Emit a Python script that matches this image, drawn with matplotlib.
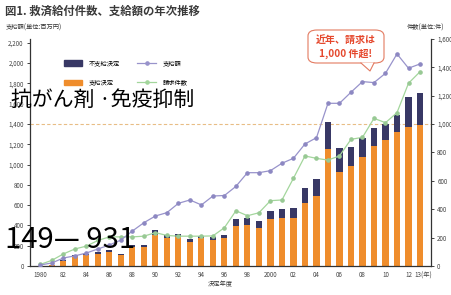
import matplotlib
matplotlib.use("Agg")
import matplotlib.pyplot as plt
from matplotlib.patches import FancyBboxPatch, Polygon, Patch
from matplotlib.lines import Line2D

plt.rcParams['font.family'] = ['Noto Sans CJK JP', 'DejaVu Sans']

# ---------------- data ----------------
years = list(range(1980, 2014))
decided = [0, 8, 38, 68, 75, 88, 100, 75, 135, 135,
           220, 200, 202, 172, 195, 183, 198, 282, 289, 268,
           329, 336, 336, 446, 495, 822, 664, 704, 765, 845,
           887, 946, 981, 990]
rejected = [0, 1, 4, 9, 10, 12, 13, 10, 13, 13,
            33, 18, 21, 18, 19, 23, 20, 47, 47, 49,
            58, 63, 70, 101, 118, 194, 165, 132, 134, 125,
            113, 117, 211, 226]
requests = [11, 40, 85, 120, 140, 180, 205, 205, 205, 210,
            235, 215, 210, 210, 210, 212, 270, 389, 354, 375,
            460, 465, 618, 775, 758, 746, 775, 892, 906, 1040,
            1009, 1080, 1287, 1368]
amounts = [10, 30, 79, 100, 128, 168, 207, 256, 345, 427,
           493, 526, 618, 651, 602, 690, 695, 785, 920, 920,
           940, 1013, 1062, 1203, 1265, 1604, 1604, 1713, 1818, 1808,
           1900, 2091, 1950, 1992]
xtick_years = [1980, 1982, 1984, 1986, 1988, 1990, 1992, 1994, 1996, 1998,
               2000, 2002, 2004, 2006, 2008, 2010, 2012]
xtick_labels = ["1980", "82", "84", "86", "88", "90", "92", "94", "96", "98",
                "2000", "02", "04", "06", "08", "10", "12"]
count_ticks = [0, 200, 400, 600, 800, 1000, 1200, 1400, 1600]
amount_ticks = [0, 200, 400, 600, 800, 1000, 1200, 1400, 1600, 1800, 2000, 2200]

C_ORANGE = '#ef8d2c'
C_NAVY = '#383865'
C_PURPLE = '#9893cb'
C_GREEN = '#a3d69c'
C_AX = '#333333'
C_RED = '#e5472c'

fig = plt.figure(figsize=(4.52, 2.95), dpi=100)
ax = fig.add_axes([0.0664, 0.0983, 0.887, 0.7702])
ax2 = ax.twinx()

# counts on ax (right side), amounts on ax2 (left side)
ax.yaxis.tick_right()
ax2.yaxis.tick_left()

ax.set_xlim(1979.1, 2013.95)
ax.set_ylim(0, 1600)
ax2.set_ylim(0, 2240)

ax.axhline(1000, color='#e8bd85', lw=0.8, ls=(0, (3, 2)), zorder=1)

ax.bar(years, decided, width=0.53, color=C_ORANGE, zorder=2)
ax.bar(years, rejected, bottom=decided, width=0.53, color=C_NAVY, zorder=2)
ax.plot(years, requests, color=C_GREEN, lw=0.9, marker='o', ms=2.3,
        mfc='#98c994', mec='#98c994', zorder=4)
ax2.plot(years, amounts, color=C_PURPLE, lw=0.9, marker='o', ms=2.3,
         mfc='#8d88c2', mec='#8d88c2', zorder=4)

for a in (ax, ax2):
    for s in a.spines.values():
        s.set_visible(False)
ax.spines['bottom'].set_visible(True)
ax.spines['right'].set_visible(True)
ax2.spines['left'].set_visible(True)
for s in (ax.spines['bottom'], ax.spines['right'], ax2.spines['left']):
    s.set_color(C_AX)
    s.set_linewidth(0.9)

ax.set_yticks(count_ticks)
ax.set_yticklabels([f"{v:,}" for v in count_ticks])
ax2.set_yticks(amount_ticks)
ax2.set_yticklabels([f"{v:,}" for v in amount_ticks])
ax.set_xticks(xtick_years)
ax.set_xticklabels(xtick_labels)

ax.tick_params(axis='y', which='both', right=True, left=False, labelright=True,
               labelleft=False, length=2.5, width=0.7, pad=2, labelsize=4.5,
               colors='#444444')
ax2.tick_params(axis='y', length=2.5, width=0.7, pad=2, labelsize=4.5,
                colors='#444444')
ax.tick_params(axis='x', length=0, pad=3.5, labelsize=4.5, colors='#444444')

# last x label "13(年)"
ax.text(2012.55, -0.026, "13(年)", transform=ax.get_xaxis_transform(),
        ha='left', va='top', fontsize=4.5, color='#444444')

# axis titles
fig.text(6 / 452, 1 - 28 / 295, "支給額(単位:百万円)", fontsize=4.5,
         ha='left', va='center', color='#333333')
fig.text(407 / 452, 1 - 28 / 295, "件数(単位:件)", fontsize=4.5,
         ha='left', va='center', color='#333333')
fig.text(220 / 452, 1 - 284 / 295, "決定年度", fontsize=4.5,
         ha='center', va='center', color='#333333')

# title
fig.text(5 / 452, 1 - 11 / 295, "図1. 救済給付件数、支給額の年次推移",
         fontsize=8.2, fontweight='bold', ha='left', va='center', color='#3a3a3a')

# legend
handles = [Patch(color=C_NAVY), Patch(color=C_ORANGE),
           Line2D([], [], color=C_PURPLE, lw=0.9, marker='o', ms=2.3),
           Line2D([], [], color=C_GREEN, lw=0.9, marker='o', ms=2.3)]
labels = ["不支給決定", "支給決定", "支給額", "請求件数"]
ax2.legend(handles, labels, ncol=2, loc='upper left',
           bbox_to_anchor=(0.07, 0.935), frameon=False, fontsize=4.5,
           handlelength=3.0, handleheight=0.9, columnspacing=2.8,
           labelspacing=1.8, handletextpad=1.0)

# callout
box = FancyBboxPatch((308 / 452, 1 - 63 / 295), 76 / 452, 33 / 295,
                     boxstyle="round,pad=0,rounding_size=0.02",
                     transform=fig.transFigure, fc='white', ec='#e37a60',
                     lw=0.8, zorder=5)
fig.patches.append(box)
tail = Polygon([(361 / 452, 1 - 62.6 / 295), (374 / 452, 1 - 62.6 / 295),
                (370 / 452, 1 - 71 / 295)], closed=True,
               transform=fig.transFigure, fc='white', ec='none', zorder=6)
fig.patches.append(tail)
fig.lines.append(Line2D([361 / 452, 370 / 452, 374 / 452],
                        [1 - 63 / 295, 1 - 71 / 295, 1 - 63 / 295],
                        transform=fig.transFigure, color='#e37a60', lw=0.8,
                        zorder=7))
fig.text(346 / 452, 1 - 40 / 295, "近年、請求は", fontsize=7.2,
         fontweight='bold', color=C_RED, ha='center', va='center', zorder=8)
fig.text(346 / 452, 1 - 54 / 295, "1,000 件超!", fontsize=7.2,
         fontweight='bold', color=C_RED, ha='center', va='center', zorder=8)

# overlay texts
fig.text(11 / 452, 1 - 100 / 295, "抗がん剤 ·免疫抑制", fontsize=15,
         ha='left', va='center', color='black', zorder=10)
fig.text(5 / 452, 1 - 240 / 295, "149— 931", fontsize=21,
         ha='left', va='center', color='black', zorder=10)

fig.savefig("out.png", dpi=100)
